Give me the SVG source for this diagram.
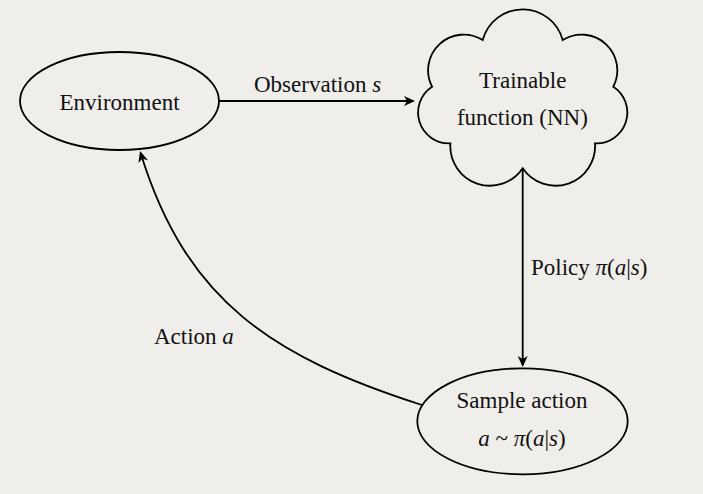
<svg xmlns="http://www.w3.org/2000/svg" width="703" height="494" viewBox="0 0 703 494">
  <style>
    .shape { fill: none; stroke: #000; stroke-width: 1.8; }
    .edge { fill: none; stroke: #000; stroke-width: 1.8; marker-end: url(#arr); }
    text { font-family: "Liberation Serif", "Times New Roman", serif; font-size: 23px; fill: #111; }
    .c { text-anchor: middle; }
    .m { font-style: italic; }
  </style>
  <defs>
    <marker id="arr" viewBox="-13 -7 14 14" markerWidth="14" markerHeight="14" refX="-2" refY="0" orient="auto" markerUnits="userSpaceOnUse">
      <path d="M0,0 L-11,-5 L-8,0 L-11,5 Z" fill="#000"/>
    </marker>
  </defs>
  <rect width="703" height="494" fill="#f0eeea"/>

  <g id="environment">
    <ellipse class="shape" cx="119.5" cy="101" rx="99.5" ry="49"/>
    <text class="c" x="119.5" y="110">Environment</text>
  </g>

  <g id="trainable">
    <path class="shape" d="M482.7,40 A41.4,41.4 0 0 1 562.7,40 A35.7,35.7 0 0 1 613.3,86.7 A30.8,30.8 0 0 1 595,143.3 A39.6,39.6 0 0 1 522.7,168.3 A39.6,39.6 0 0 1 450.4,143.3 A30.8,30.8 0 0 1 432.1,86.7 A35.7,35.7 0 0 1 482.7,40 Z"/>
    <text class="c" x="522.7" y="88">Trainable</text>
    <text class="c" x="522.4" y="125">function (NN)</text>
  </g>

  <g id="sample">
    <ellipse class="shape" cx="522.5" cy="421.3" rx="105.2" ry="53"/>
    <text class="c" x="522" y="408">Sample action</text>
    <text class="c" x="522" y="446"><tspan class="m">a</tspan> ~ <tspan class="m">π</tspan>(<tspan class="m">a</tspan>|<tspan class="m">s</tspan>)</text>
  </g>

  <g id="connectors">
    <path class="edge" d="M219,101 L413,101"/>
    <path class="edge" d="M522.7,168.3 L522.7,365"/>
    <path class="edge" d="M422,405 C273,357 186.5,302 140.6,153"/>
    <text x="254" y="92">Observation <tspan class="m">s</tspan></text>
    <text x="531" y="275">Policy <tspan class="m">π</tspan>(<tspan class="m">a</tspan>|<tspan class="m">s</tspan>)</text>
    <text x="154" y="344">Action <tspan class="m">a</tspan></text>
  </g>
</svg>
